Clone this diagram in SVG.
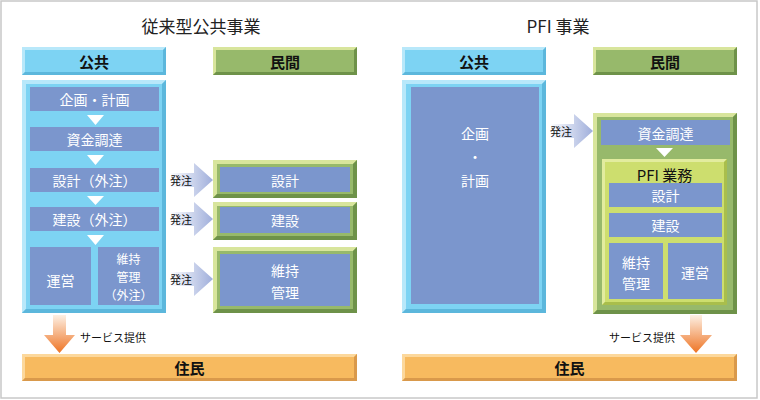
<svg xmlns="http://www.w3.org/2000/svg" width="760" height="400" viewBox="0 0 760 400">
<defs>
<linearGradient id="gOrder" x1="0" y1="0" x2="1" y2="0">
<stop offset="0" stop-color="#ffffff"/>
<stop offset="1" stop-color="#9FAEDB"/>
</linearGradient>
<linearGradient id="gServ" x1="0" y1="0" x2="0" y2="1">
<stop offset="0" stop-color="#FDF0E4"/>
<stop offset="1" stop-color="#EE7424"/>
</linearGradient>
</defs>
<style>
text{font-family:"Noto Sans CJK JP","Noto Sans",sans-serif;text-anchor:middle;dominant-baseline:central}
.title{font-size:17px;fill:#222}
.hd{font-size:15px;font-weight:bold;fill:#111}
.it{font-size:14px;fill:#fff}
.it2{font-size:12px;fill:#fff}
.sm{font-size:11px;fill:#111}
.blue{fill:#7DD3F3}.blueL{fill:#B8E8FA}.blueD{fill:#5CB7DC}
.green{fill:#97B96B}.greenL{fill:#D8E59C}.greenD{fill:#6E9249}
.orange{fill:#F7BA5F}.orangeL{fill:#FCD89C}.orangeD{fill:#D9994B}
.lime{fill:#CDDE6E}.limeL{fill:#E2EC9E}.limeD{fill:#A9BE4C}
.item{fill:#7B96CD}
.order{fill:url(#gOrder)}
.serv{fill:url(#gServ)}
</style>
<rect x="1" y="1" width="756" height="397" fill="#fff" stroke="#C8C8C8" stroke-width="1.5"/>

<text class="title" x="201" y="25">従来型公共事業</text>
<text class="title" x="558" y="25">PFI 事業</text>

<!-- Left side -->
<g id="L-public-header">
<rect class="blue" x="22" y="47" width="144" height="28"/>
<polygon class="blueL" points="22,47 166,47 163,50 25,50 25,72 22,75"/>
<polygon class="blueD" points="166,47 166,75 22,75 25,72 163,72 163,50"/>
<text class="hd" x="94" y="61">公共</text>
</g>
<g id="L-private-header">
<rect class="green" x="213" y="47" width="144" height="28"/>
<polygon class="greenL" points="213,47 357,47 354,50 216,50 216,72 213,75"/>
<polygon class="greenD" points="357,47 357,75 213,75 216,72 354,72 354,50"/>
<text class="hd" x="285" y="61">民間</text>
</g>

<g id="L-public-box">
<rect class="blue" x="22" y="80" width="144" height="233"/>
<polygon class="blueL" points="22,80 166,80 162,84 26,84 26,309 22,313"/>
<polygon class="blueD" points="166,80 166,313 22,313 26,309 162,309 162,84"/>
</g>
<g id="L-plan">
<rect class="item" x="30" y="87" width="129" height="24"/>
<text class="it" x="94.5" y="99">企画・計画</text>
</g>
<g id="L-fund">
<rect class="item" x="30" y="127" width="129" height="24"/>
<text class="it" x="94.5" y="139">資金調達</text>
</g>
<g id="L-design">
<rect class="item" x="30" y="168" width="129" height="24"/>
<text class="it" x="94.5" y="180">設計（外注）</text>
</g>
<g id="L-build">
<rect class="item" x="30" y="207" width="129" height="24"/>
<text class="it" x="94.5" y="219">建設（外注）</text>
</g>
<g id="L-operate">
<rect class="item" x="30" y="247" width="61" height="58"/>
<text class="it" x="60.5" y="280">運営</text>
</g>
<g id="L-maint">
<rect class="item" x="98" y="247" width="61" height="58"/>
<text class="it2" x="128.5" y="258">維持</text>
<text class="it2" x="128.5" y="276">管理</text>
<text class="it2" x="128.5" y="294">（外注）</text>
</g>

<g id="L-private-design">
<rect class="green" x="213" y="160" width="144" height="38"/>
<polygon class="greenL" points="213,160 357,160 353,164 217,164 217,194 213,198"/>
<polygon class="greenD" points="357,160 357,198 213,198 217,194 353,194 353,164"/>
<rect class="item" x="220" y="167" width="130" height="25"/>
<text class="it" x="285" y="180">設計</text>
</g>
<g id="L-private-build">
<rect class="green" x="213" y="202" width="144" height="38"/>
<polygon class="greenL" points="213,202 357,202 353,206 217,206 217,236 213,240"/>
<polygon class="greenD" points="357,202 357,240 213,240 217,236 353,236 353,206"/>
<rect class="item" x="220" y="207" width="130" height="26"/>
<text class="it" x="285" y="220">建設</text>
</g>
<g id="L-private-maint">
<rect class="green" x="213" y="247" width="144" height="66"/>
<polygon class="greenL" points="213,247 357,247 353,251 217,251 217,309 213,313"/>
<polygon class="greenD" points="357,247 357,313 213,313 217,309 353,309 353,251"/>
<rect class="item" x="220" y="254" width="130" height="52"/>
<text class="it" x="285" y="270">維持</text>
<text class="it" x="285" y="292">管理</text>
</g>

<g id="L-residents">
<rect class="orange" x="22" y="354" width="335" height="27"/>
<polygon class="orangeL" points="22,354 357,354 354,357 25,357 25,378 22,381"/>
<polygon class="orangeD" points="357,354 357,381 22,381 25,378 354,378 354,357"/>
<text class="hd" x="189.5" y="367.5">住民</text>
</g>

<!-- Right side -->
<g id="R-public-header">
<rect class="blue" x="402" y="47" width="144" height="28"/>
<polygon class="blueL" points="402,47 546,47 543,50 405,50 405,72 402,75"/>
<polygon class="blueD" points="546,47 546,75 402,75 405,72 543,72 543,50"/>
<text class="hd" x="474" y="61">公共</text>
</g>
<g id="R-private-header">
<rect class="green" x="593" y="47" width="144" height="28"/>
<polygon class="greenL" points="593,47 737,47 734,50 596,50 596,72 593,75"/>
<polygon class="greenD" points="737,47 737,75 593,75 596,72 734,72 734,50"/>
<text class="hd" x="665" y="61">民間</text>
</g>

<g id="R-public-box">
<rect class="blue" x="402" y="80" width="144" height="233"/>
<polygon class="blueL" points="402,80 546,80 542,84 406,84 406,309 402,313"/>
<polygon class="blueD" points="546,80 546,313 402,313 406,309 542,309 542,84"/>
<rect class="item" x="411" y="87" width="128" height="217"/>
<text class="it" x="475" y="133">企画</text>
<text class="it" x="475" y="156">・</text>
<text class="it" x="475" y="180">計画</text>
</g>

<g id="R-private-box">
<rect class="green" x="593" y="113" width="144" height="201"/>
<polygon class="greenL" points="593,113 737,113 733,117 597,117 597,310 593,314"/>
<polygon class="greenD" points="737,113 737,314 593,314 597,310 733,310 733,117"/>
</g>
<g id="R-fund">
<rect class="item" x="601" y="120" width="129" height="25"/>
<text class="it" x="665.5" y="132.5">資金調達</text>
</g>
<g id="R-pfi">
<rect class="lime" x="602" y="159" width="125" height="146"/>
<polygon class="limeL" points="602,159 727,159 724,162 605,162 605,302 602,305"/>
<polygon class="limeD" points="727,159 727,305 602,305 605,302 724,302 724,162"/>
<text x="664.5" y="174" style="font-size:15px;fill:#111">PFI 業務</text>
</g>
<g id="R-design">
<rect class="item" x="609" y="183" width="113" height="24"/>
<text class="it" x="665.5" y="195">設計</text>
</g>
<g id="R-build">
<rect class="item" x="609" y="213" width="113" height="24"/>
<text class="it" x="665.5" y="225">建設</text>
</g>
<g id="R-maint">
<rect class="item" x="609" y="243" width="54" height="56"/>
<text class="it" x="636" y="262">維持</text>
<text class="it" x="636" y="283">管理</text>
</g>
<g id="R-operate">
<rect class="item" x="668" y="243" width="54" height="56"/>
<text class="it" x="695" y="272">運営</text>
</g>

<g id="R-residents">
<rect class="orange" x="402" y="354" width="335" height="27"/>
<polygon class="orangeL" points="402,354 737,354 734,357 405,357 405,378 402,381"/>
<polygon class="orangeD" points="737,354 737,381 402,381 405,378 734,378 734,357"/>
<text class="hd" x="569.5" y="367.5">住民</text>
</g>

<!-- Connectors -->
<g id="connectors">
<polygon fill="#fff" points="87,115 104,115 95.5,125"/>
<polygon fill="#fff" points="87,155 104,155 95.5,165"/>
<polygon fill="#fff" points="87,196 104,196 95.5,205"/>
<polygon fill="#fff" points="87,235 104,235 95.5,245"/>
<polygon fill="#fff" points="656,148 673,148 664.5,157"/>

<polygon class="order" points="170,173 194,173 194,163 213,180 194,197 194,187 170,187"/>
<polygon class="order" points="170,212 194,212 194,202 213,219 194,236 194,226 170,226"/>
<polygon class="order" points="170,272 194,272 194,262 213,279 194,296 194,286 170,286"/>
<polygon class="order" points="550,124 574,124 574,114 593,131 574,148 574,138 550,138"/>
<text class="sm" x="181" y="180">発注</text>
<text class="sm" x="181" y="219">発注</text>
<text class="sm" x="181" y="279">発注</text>
<text class="sm" x="561" y="131">発注</text>

<polygon class="serv" points="53,315 66,315 66,335 75,335 59.5,353 44,335 53,335"/>
<polygon class="serv" points="690,315 702,315 702,335 712,335 696,353 680,335 690,335"/>
<text class="sm" x="80" y="337" style="text-anchor:start">サービス提供</text>
<text class="sm" x="675" y="337" style="text-anchor:end">サービス提供</text>
</g>
</svg>
